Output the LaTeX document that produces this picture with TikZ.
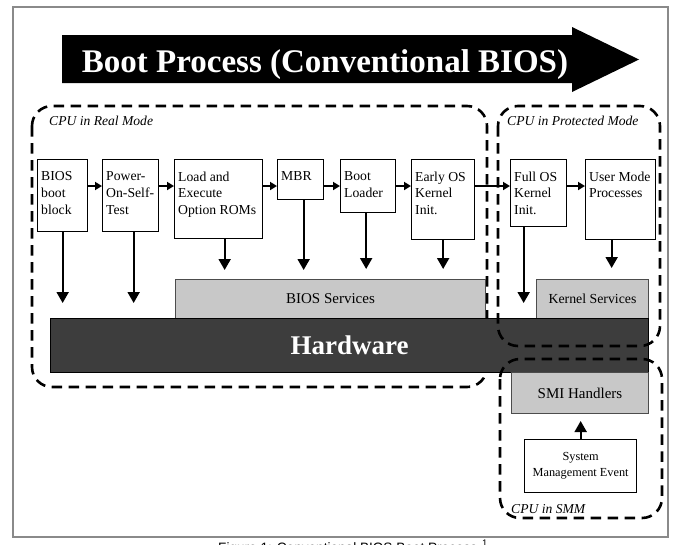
\documentclass[tikz,border=0pt]{standalone}
\usepackage{fontspec}
\setmainfont{Liberation Serif}
\newfontfamily\capfont{Liberation Sans}
\usetikzlibrary{arrows.meta}
\definecolor{svcgray}{HTML}{C8C8C8}
\definecolor{hwgray}{HTML}{3D3D3D}
\definecolor{framegray}{HTML}{8A8A8A}

\begin{document}
\begin{tikzpicture}[x=1pt,y=-1pt,
  blk/.style={draw, line width=1.3pt, anchor=north west, inner sep=0pt},
  txt/.style={anchor=north west, align=left, inner xsep=4pt, inner ysep=12.5pt, font=\fontsize{13.7}{16.7}\selectfont},
  svc/.style={draw=black!70, fill=svcgray, line width=1pt, anchor=north west, minimum height=39pt, font=\fontsize{15}{15}\selectfont},
  region/.style={line width=2.6pt, dash pattern=on 10.5pt off 6.5pt, rounded corners=20pt},
  lab/.style={anchor=base west, inner sep=0pt, font=\itshape\fontsize{13.6}{16}\selectfont},
  varr/.style={line width=2pt, -{Triangle[length=11pt,width=12pt]}},
  harr/.style={line width=2pt, -{Triangle[length=7pt,width=8pt]}}]
\useasboundingbox (0,0) rectangle (700,544);
\clip (0,0) rectangle (700,544);
\draw[framegray, line width=2pt] (13,7) rectangle (668,537);
\fill (62,35) -- (572,35) -- (572,27) -- (639,59.5) -- (572,92) -- (572,83) -- (62,83) -- cycle;
\node[anchor=base, text=white, font=\bfseries\fontsize{33}{33}\selectfont] (title) at (325,72) {Boot Process (Conventional BIOS)};
%
\draw[region] (32,106) rectangle (487,387);
\node[svc, minimum width=310pt] (bsvc) at (175,279) {BIOS Services};
\node[svc, minimum width=112pt, font=\fontsize{13.8}{14}\selectfont] (ksvc) at (536,279) {Kernel Services};
\node[draw, line width=1pt, fill=hwgray, anchor=north west, minimum width=598pt, minimum height=54pt, text=white, font=\bfseries\fontsize{27}{27}\selectfont] (hw) at (50,318) {Hardware};
\node[svc, minimum width=137pt, minimum height=41pt] (smi) at (511,372) {SMI Handlers};
\draw[region] (498,106) rectangle (660,346);
\draw[region] (500,359) rectangle (662,518);
%
\node[blk, minimum width=50pt, minimum height=72pt] (bios) at (37,159) {};
\node[txt] (bios-t) at (bios.north west) {BIOS\\boot\\block};
\node[blk, minimum width=56pt, minimum height=72pt] (post) at (102,159) {};
\node[txt] (post-t) at (post.north west) {Power-\\On-Self-\\Test};
\node[blk, minimum width=88pt, minimum height=79pt] (roms) at (174,159) {};
\node[txt] (roms-t) at (roms.north west) {Load and\\Execute\\Option ROMs};
\node[blk, minimum width=46pt, minimum height=40pt] (mbr) at (277,159) {};
\node[txt] (mbr-t) at (mbr.north west) {MBR};
\node[blk, minimum width=55pt, minimum height=53pt] (loader) at (340,159) {};
\node[txt] (loader-t) at (loader.north west) {Boot\\Loader};
\node[blk, minimum width=63pt, minimum height=80pt] (early) at (411,159) {};
\node[txt] (early-t) at (early.north west) {Early OS\\Kernel\\Init.};
\node[blk, minimum width=56pt, minimum height=67pt] (full) at (510,159) {};
\node[txt] (full-t) at (full.north west) {Full OS\\Kernel\\Init.};
\node[blk, minimum width=70pt, minimum height=80pt] (user) at (585,159) {};
\node[txt] (user-t) at (user.north west) {User Mode\\Processes};
%
\foreach \a/\b in {bios/post,post/roms,roms/mbr,mbr/loader,loader/early,early/full,full/user}
  \draw[harr] ([yshift=-27pt]\a.north east) -- ([yshift=-27pt]\b.north west);
\foreach \n/\s/\t/\g in {bios/0/hw/15,post/3/hw/15,roms/6/bsvc/9,mbr/3/bsvc/9,loader/-2/bsvc/10,early/0/bsvc/10,full/-15/hw/15,user/-9/ksvc/11}
  \draw[varr, shorten >=\g pt] ([xshift=\s pt]\n.south) -- ([xshift=\s pt]\n.south |- \t.north);
%
\node[blk, minimum width=112pt, minimum height=53pt, align=center, font=\fontsize{12.3}{16}\selectfont] (sme) at (524,439) {System\\Management Event};
\draw[varr, shorten >=7pt] (sme.north) -- (sme.north |- smi.south);
%
\node[lab] (real-l) at (49,125) {CPU in Real Mode};
\node[lab] (prot-l) at (507,125) {CPU in Protected Mode};
\node[lab] (smm-l) at (511,513) {CPU in SMM};
\node[anchor=base west, inner sep=0pt, font=\capfont\fontsize{13.6}{16}\selectfont] (cap) at (218,552) {Figure 1: Conventional BIOS Boot Process\hspace{5pt}\textsuperscript{1}};
\end{tikzpicture}
\end{document}
